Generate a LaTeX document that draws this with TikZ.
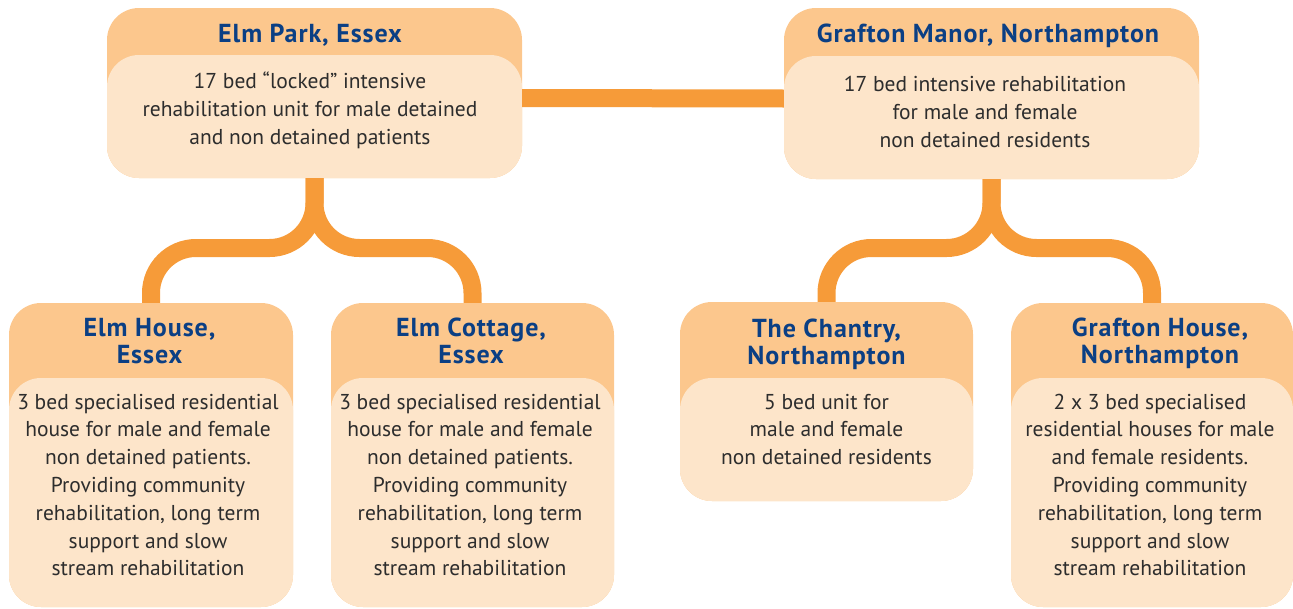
\documentclass[tikz,border=0pt]{standalone}
\usepackage{fontspec}
\setmainfont{PT Sans}
\usepackage{tikz}
\usetikzlibrary{positioning}

\definecolor{headFill}{HTML}{FCC78D}
\definecolor{bodyFill}{HTML}{FDE5CA}
\definecolor{linkOrange}{HTML}{F69B39}
\definecolor{titleBlue}{HTML}{0B3F84}
\definecolor{textGray}{HTML}{2D2D2D}

\begin{document}
\begin{tikzpicture}[
        x=1pt, y=-1pt,
        unit/.style={
            % The shape
            rectangle,
            rounded corners=32pt,
            inner sep=0pt,
            % The color
            fill = headFill
        },
        unitBody/.style={
            % The shape
            rectangle,
            rounded corners=32pt,
            inner sep=0pt,
            anchor=south,
            % The color
            fill = bodyFill
        },
        unitTitle/.style={
            % The color
            color = titleBlue,
            % Font
            font = \addfontfeatures{LetterSpace=3.5}\bfseries\fontsize{26}{27}\selectfont,
            align=center,
            inner sep=0pt
        },
        unitText/.style={
            % The color
            color = textGray,
            % Font
            font = \fontsize{21.5}{27.8}\selectfont,
            align=center,
            inner sep=0pt
        },
        link/.style={
            % The line
            draw = linkOrange,
            line width=18pt,
            rounded corners=45pt
        },
    ]
        \useasboundingbox (0,0) rectangle (1293,608);

        \node (elmPark) [unit,minimum width=415pt,minimum height=170pt] at (314.5,93) {};
        \node (elmParkBody) [unitBody,minimum width=415pt,minimum height=123pt] at (elmPark.south) {};
        \node (elmParkTitle) [unitTitle,anchor=base] at (310,42) {Elm Park, Essex};
        \node (elmParkText) [unitText] at (310,110) {17 bed “locked” intensive \\
        rehabilitation unit for male detained \\ and non detained patients};

        \node (graftonManor) [unit,minimum width=415pt,minimum height=171pt] at (991.5,93.5) {};
        \node (graftonManorBody) [unitBody,minimum width=415pt,minimum height=123pt] at (graftonManor.south) {};
        \node (graftonManorTitle) [unitTitle,anchor=base] at (988,42.5) {Grafton Manor, Northampton};
        \node (graftonManorText) [unitText] at (985,112) {17 bed intensive rehabilitation \\
        for male and female \\ non detained residents};

        \node (elmHouse) [unit,minimum width=284pt,minimum height=304pt] at (151,455) {};
        \node (elmHouseBody) [unitBody,minimum width=284pt,minimum height=229pt] at (elmHouse.south) {};
        \node (elmHouseTitle) [unitTitle] at (149.5,341) {Elm House, \\ Essex};
        \node (elmHouseText) [unitText] at (148,485) {3 bed specialised residential \\
        house for male and female \\ non detained patients. \\ Providing community \\
        rehabilitation, long term \\ support and slow \\ stream rehabilitation};

        \node (elmCottage) [unit,minimum width=283pt,minimum height=304pt] at (472.5,455) {};
        \node (elmCottageBody) [unitBody,minimum width=283pt,minimum height=229pt] at (elmCottage.south) {};
        \node (elmCottageTitle) [unitTitle] at (471,341) {Elm Cottage, \\ Essex};
        \node (elmCottageText) [unitText] at (470,485) {3 bed specialised residential \\
        house for male and female \\ non detained patients. \\ Providing community \\
        rehabilitation, long term \\ support and slow \\ stream rehabilitation};

        \node (chantry) [unit,minimum width=293pt,minimum height=199pt] at (826.5,401.5) {};
        \node (chantryBody) [unitBody,minimum width=293pt,minimum height=123pt] at (chantry.south) {};
        \node (chantryTitle) [unitTitle] at (826.5,344) {The Chantry, \\ Northampton};
        \node (chantryText) [unitText] at (826.5,429.5) {5 bed unit for \\
        male and female \\ non detained residents};

        \node (graftonHouse) [unit,minimum width=282pt,minimum height=304pt] at (1152,455) {};
        \node (graftonHouseBody) [unitBody,minimum width=282pt,minimum height=229pt] at (graftonHouse.south) {};
        \node (graftonHouseTitle) [unitTitle] at (1160,343.5) {Grafton House, \\ Northampton};
        \node (graftonHouseText) [unitText] at (1150,485) {2 x 3 bed specialised \\
        residential houses for male \\ and female residents. \\ Providing community \\
        rehabilitation, long term \\ support and slow \\ stream rehabilitation};

        % the links
        \coordinate (elmFork) at (312,248);
        \coordinate (graftonFork) at (991.5,248);
        \draw [link] ([yshift=-5pt]elmPark.east) -- ([yshift=-5pt]graftonManor.west);
        \draw [link] (elmPark.south) -- (elmPark.south |- elmFork) -| (elmHouse.north);
        \draw [link] (elmPark.south) -- (elmPark.south |- elmFork) -| (elmCottage.north);
        \draw [link] (graftonManor.south) -- (graftonFork) -| (chantry.north);
        \draw [link] (graftonManor.south) -- (graftonFork) -| (graftonHouse.north);

    \end{tikzpicture}
\end{document}
